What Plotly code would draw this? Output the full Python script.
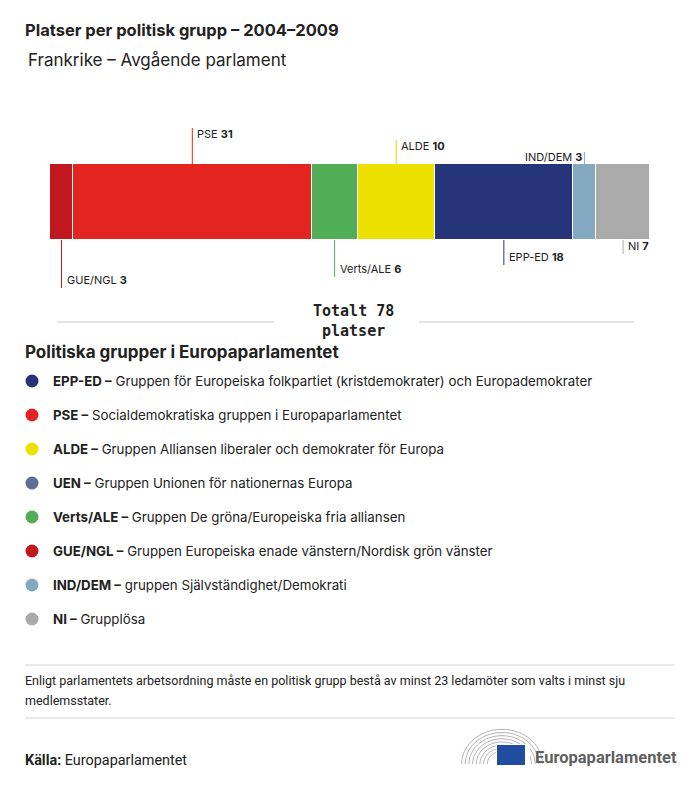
import math
import plotly.graph_objects as go

# ---------------- data ----------------
bar_groups = ["GUE/NGL", "PSE", "Verts/ALE", "ALDE", "EPP-ED", "IND/DEM", "NI"]
bar_seats = [3, 31, 6, 10, 18, 3, 7]
bar_colors = ["#C0181E", "#E42421", "#51AD56", "#EBE000", "#26357A", "#83A9C0", "#AAAAAA"]
total_seats = 78

legend_abbr = ["EPP-ED", "PSE", "ALDE", "UEN", "Verts/ALE", "GUE/NGL", "IND/DEM", "NI"]
legend_desc = [
    "Gruppen för Europeiska folkpartiet (kristdemokrater) och Europademokrater",
    "Socialdemokratiska gruppen i Europaparlamentet",
    "Gruppen Alliansen liberaler och demokrater för Europa",
    "Gruppen Unionen för nationernas Europa",
    "Gruppen De gröna/Europeiska fria alliansen",
    "Gruppen Europeiska enade vänstern/Nordisk grön vänster",
    "gruppen Självständighet/Demokrati",
    "Grupplösa",
]
legend_colors = ["#26357A", "#E42421", "#EBE000", "#5B6E97", "#51AD56", "#C0181E", "#83A9C0", "#AAAAAA"]

title = "Platser per politisk grupp – 2004–2009"
subtitle = "Frankrike – Avgående parlament"
legend_title = "Politiska grupper i Europaparlamentet"
note_lines = ["Enligt parlamentets arbetsordning måste en politisk grupp bestå av minst 23 ledamöter som valts i minst sju",
              "medlemsstater."]
source_label = "Källa:"
source_text = "Europaparlamentet"

# ---------------- layout constants (page pixels) ----------------
W, H = 700, 786
OFF = 8                      # default body margin of the html page
FW, FH = W - OFF, H - OFF    # figure size so it fits in the window
BAR_L, BAR_R = 50, 650
BAR_T, BAR_B = 164, 240
FONT = "Inter"
TXT = "#222222"
TX = -2                      # annotation inner padding compensation

label_side = ["below", "above", "below", "above", "below", "above", "below"]
label_end = [288, 128, 277, 140, 265, 152, 254]

fig = go.Figure()

for g, v, c in zip(bar_groups, bar_seats, bar_colors):
    fig.add_trace(go.Bar(
        x=[v], y=[0], orientation="h", marker=dict(color=c, line=dict(color="white", width=1.2)),
        width=1, showlegend=False, hoverinfo="skip", xaxis="x", yaxis="y"))

leg_y0, leg_dy = 381, 34
leg_ys = [leg_y0 + i * leg_dy for i in range(len(legend_abbr))]
fig.add_trace(go.Scatter(
    x=[32] * len(leg_ys), y=leg_ys, mode="markers",
    marker=dict(size=13, color=legend_colors), showlegend=False, hoverinfo="skip",
    xaxis="x2", yaxis="y2"))

shapes = []
annotations = []

def txt(x, y, text, size=13, color=TXT, xanchor="left", family=FONT):
    annotations.append(dict(x=x + (TX if xanchor == "left" else (-TX if xanchor == "right" else 0)),
                            y=y, xref="x2", yref="y2", text=text, showarrow=False,
                            xanchor=xanchor, yanchor="middle",
                            font=dict(family=family, size=size, color=color)))

cum = 0
px_per = (BAR_R - BAR_L) / total_seats
for g, v, c, side, yend in zip(bar_groups, bar_seats, bar_colors, label_side, label_end):
    mid = cum + v / 2
    cum += v
    xp = BAR_L + mid * px_per
    if side == "above":
        shapes.append(dict(type="line", xref="x", yref="y2", x0=mid, x1=mid, y0=BAR_T, y1=yend,
                           line=dict(color=c if c != "#EBE000" else "#E0D400", width=1)))
        ly = yend + 6
    else:
        shapes.append(dict(type="line", xref="x", yref="y2", x0=mid, x1=mid, y0=BAR_B, y1=yend,
                           line=dict(color=c, width=1)))
        ly = yend - 8
    label = f"{g} <b>{v}</b>"
    if g == "IND/DEM":
        txt(xp - 3, ly - 1, label, size=11, xanchor="right")
    else:
        txt(xp + 5, ly, label, size=11)

# titles
txt(25, 30, f"<b>{title}</b>", size=16.5)
txt(28, 60, subtitle, size=17)

# total
txt(353, 311, "<b>Totalt 78</b>", size=15, xanchor="center", family="DejaVu Sans Mono")
txt(353, 331, "<b>platser</b>", size=15, xanchor="center", family="DejaVu Sans Mono")
for x0, x1 in [(57, 274), (419, 634)]:
    shapes.append(dict(type="line", xref="x2", yref="y2", x0=x0, x1=x1, y0=322, y1=322,
                       line=dict(color="#CCCCCC", width=1)))

# legend
txt(25, 352, f"<b>{legend_title}</b>", size=17)
for y, a, d in zip(leg_ys, legend_abbr, legend_desc):
    txt(53, y, f"<b>{a} –</b> {d}", size=13.3)

# note
for x0, x1, y in [(25, 675, 665), (25, 675, 718)]:
    shapes.append(dict(type="line", xref="x2", yref="y2", x0=x0, x1=x1, y0=y, y1=y,
                       line=dict(color="#D5D5D5", width=1)))
txt(25, 680, note_lines[0], size=12.5, family="Roboto")
txt(25, 700, note_lines[1], size=12.5, family="Roboto")

# source
txt(25, 760, f"<b>{source_label}</b> {source_text}", size=14.4, family="Roboto")

# logo: hemicycle arcs
cx, cy = 502, 764
for r in [14, 17.5, 21, 24.5, 28, 31.5, 35, 38.5]:
    pts = []
    for k in range(0, 181, 6):
        ang = math.radians(180 - k)
        pts.append((cx + r * 1.05 * math.cos(ang), cy - r * 0.9 * math.sin(ang)))
    path = "M " + " L ".join(f"{px:.1f},{py:.1f}" for px, py in pts)
    shapes.append(dict(type="path", xref="x2", yref="y2", path=path,
                       line=dict(color="#B3B3B3", width=1)))
shapes.append(dict(type="rect", xref="x2", yref="y2", x0=494, x1=530, y0=765, y1=772,
                   fillcolor="white", line=dict(width=0)))
shapes.append(dict(type="rect", xref="x2", yref="y2", x0=496, x1=530, y0=744, y1=765,
                   fillcolor="white", line=dict(width=0)))
shapes.append(dict(type="rect", xref="x2", yref="y2", x0=497, x1=525, y0=745, y1=765,
                   fillcolor="#1F4E9E", line=dict(width=0)))
star_x, star_y = [], []
for k in range(12):
    a = 2 * math.pi * k / 12
    star_x.append(511 + 6 * math.cos(a))
    star_y.append(755 + 6 * math.sin(a))
fig.add_trace(go.Scatter(x=star_x, y=star_y, mode="markers",
                         marker=dict(size=2.6, color="#FFE000", symbol="star"), showlegend=False,
                         hoverinfo="skip", xaxis="x2", yaxis="y2"))
txt(535, 757, "<b>Europaparlamentet</b>", size=16.5, color="#5F5F5F", family="Roboto")

fig.update_layout(
    width=FW, height=FH, margin=dict(l=0, r=0, t=0, b=0),
    paper_bgcolor="white", plot_bgcolor="rgba(0,0,0,0)",
    barmode="stack", bargap=0,
    xaxis=dict(domain=[(BAR_L - OFF) / FW, (BAR_R - OFF) / FW], range=[0, total_seats],
               visible=False, fixedrange=True),
    yaxis=dict(domain=[1 - (BAR_B - OFF) / FH, 1 - (BAR_T - OFF) / FH], range=[-0.5, 0.5],
               visible=False, fixedrange=True),
    xaxis2=dict(domain=[0, 1], range=[OFF, W], visible=False, anchor="y2", fixedrange=True),
    yaxis2=dict(domain=[0, 1], range=[H, OFF], visible=False, anchor="x2", fixedrange=True),
    shapes=shapes, annotations=annotations,
)

fig.write_html("out.html")
